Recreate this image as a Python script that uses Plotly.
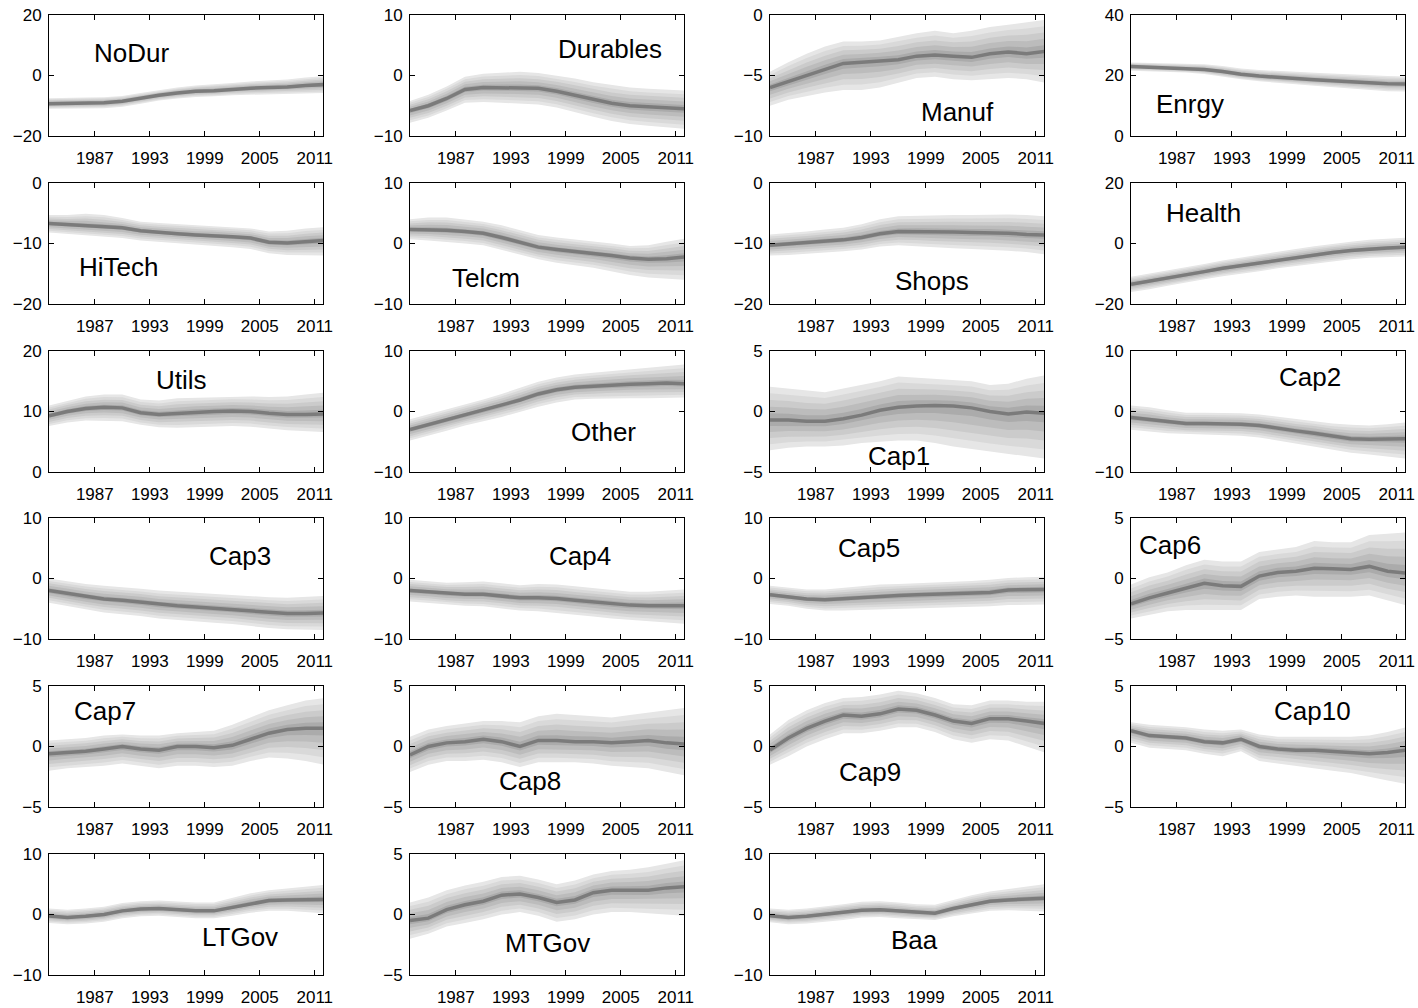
import plotly.graph_objects as go

# ---------------- data ----------------
years = [1982, 1984, 1986, 1988, 1990, 1992, 1994, 1996, 1998, 2000, 2002, 2004, 2006, 2008, 2010, 2012]
x_ticks = [1987, 1993, 1999, 2005, 2011]
band_levels = [1.0, 0.8, 0.6, 0.4, 0.2]

nodur_med = [-9.3, -9.2, -9.0, -9.0, -8.5, -7.5, -6.5, -5.8, -5.2, -5.0, -4.5, -4.2, -4.0, -3.8, -3.3, -3.0]
nodur_up = [-7.5, -7.5, -7.3, -7.2, -6.8, -5.8, -4.8, -4.0, -3.3, -3.0, -2.5, -2.0, -1.7, -1.3, -0.7, -0.2]
nodur_lo = [-11.0, -10.9, -10.8, -10.8, -10.3, -9.3, -8.3, -7.6, -7.1, -6.9, -6.5, -6.3, -6.2, -6.2, -5.9, -5.8]

durables_med = [-5.8, -5.0, -3.8, -2.3, -2.0, -2.0, -2.0, -2.1, -2.6, -3.3, -4.0, -4.6, -5.0, -5.2, -5.4, -5.5]
durables_up = [-4.2, -3.2, -1.8, -0.2, 0.3, 0.5, 0.6, 0.4, 0.0, -0.5, -1.1, -1.6, -2.0, -2.2, -2.4, -2.5]
durables_lo = [-7.8, -7.0, -5.8, -4.5, -4.4, -4.5, -4.6, -4.8, -5.3, -6.0, -6.8, -7.5, -8.0, -8.3, -8.6, -8.8]

manuf_med = [-6.0, -5.5, -5.0, -4.5, -4.0, -3.9, -3.8, -3.7, -3.4, -3.3, -3.4, -3.5, -3.2, -3.05, -3.2, -3.0]
manuf_up = [-4.7, -3.9, -3.2, -2.6, -2.2, -2.2, -2.1, -1.8, -1.5, -1.3, -1.5, -1.3, -1.0, -0.8, -0.6, -0.4]
manuf_lo = [-7.5, -7.0, -6.7, -6.4, -6.2, -6.2, -6.0, -5.6, -5.2, -5.1, -5.3, -5.4, -5.3, -5.2, -5.3, -5.6]

enrgy_med = [23.0, 22.8, 22.6, 22.4, 22.0, 21.3, 20.4, 19.8, 19.3, 19.0, 18.6, 18.2, 17.9, 17.6, 17.3, 17.2]
enrgy_up = [24.3, 24.2, 24.1, 24.0, 23.7, 23.1, 22.3, 21.8, 21.4, 21.2, 20.9, 20.6, 20.4, 20.1, 19.8, 19.7]
enrgy_lo = [21.6, 21.4, 21.2, 21.0, 20.5, 19.7, 18.8, 18.1, 17.5, 17.1, 16.6, 16.1, 15.6, 15.2, 14.8, 14.7]

hitech_med = [-6.7, -6.9, -7.0, -7.2, -7.4, -7.9, -8.2, -8.4, -8.6, -8.7, -8.9, -9.1, -9.8, -9.9, -9.7, -9.5]
hitech_up = [-5.3, -5.3, -5.1, -5.3, -5.8, -6.4, -6.6, -6.8, -7.0, -7.1, -7.3, -7.5, -8.0, -7.9, -7.5, -7.3]
hitech_lo = [-8.2, -8.5, -8.7, -8.9, -9.1, -9.5, -9.8, -10.0, -10.2, -10.4, -10.6, -10.9, -11.6, -11.9, -12.0, -12.0]

telcm_med = [2.3, 2.3, 2.2, 2.0, 1.7, 1.0, 0.2, -0.6, -1.0, -1.3, -1.6, -2.0, -2.4, -2.6, -2.5, -2.2]
telcm_up = [4.0, 4.3, 4.3, 4.0, 3.6, 3.0, 2.2, 1.4, 1.0, 0.7, 0.4, 0.0, -0.4, -0.3, 0.3, 0.8]
telcm_lo = [0.7, 0.5, 0.3, 0.0, -0.3, -1.0, -1.8, -2.6, -3.2, -3.6, -4.0, -4.6, -5.2, -5.6, -5.8, -6.0]

shops_med = [-10.3, -10.1, -9.9, -9.6, -9.4, -9.0, -8.4, -8.0, -8.0, -8.1, -8.1, -8.2, -8.2, -8.3, -8.5, -8.6]
shops_up = [-8.5, -8.3, -8.0, -7.7, -7.4, -6.8, -6.0, -5.5, -5.4, -5.4, -5.3, -5.3, -5.2, -5.2, -5.3, -5.5]
shops_lo = [-12.0, -11.9, -11.8, -11.5, -11.3, -11.0, -10.5, -10.3, -10.4, -10.6, -10.8, -10.9, -11.0, -11.2, -11.4, -11.8]

health_med = [-13.5, -12.5, -11.5, -10.5, -9.3, -8.2, -7.3, -6.5, -5.5, -4.6, -3.8, -3.0, -2.3, -1.8, -1.5, -1.2]
health_up = [-11.0, -10.0, -9.0, -8.0, -6.8, -5.6, -4.6, -3.8, -2.8, -1.8, -0.9, -0.1, 0.6, 1.2, 1.6, 1.9]
health_lo = [-16.0, -15.1, -14.0, -13.0, -11.8, -10.8, -9.9, -9.2, -8.2, -7.4, -6.6, -5.9, -5.2, -4.7, -4.5, -4.3]

utils_med = [9.3, 10.0, 10.5, 10.7, 10.6, 9.8, 9.5, 9.7, 9.9, 10.0, 10.1, 10.0, 9.7, 9.5, 9.5, 9.6]
utils_up = [11.0, 11.8, 12.5, 12.8, 12.8, 12.0, 11.8, 12.2, 12.3, 12.4, 12.5, 12.5, 12.4, 12.5, 12.8, 13.1]
utils_lo = [7.6, 8.2, 8.5, 8.5, 8.4, 7.8, 7.4, 7.3, 7.4, 7.5, 7.6, 7.5, 7.2, 6.9, 6.7, 6.6]

other_med = [-3.0, -2.2, -1.4, -0.6, 0.2, 1.0, 1.9, 2.9, 3.6, 4.0, 4.2, 4.4, 4.5, 4.6, 4.7, 4.6]
other_up = [-1.3, -0.5, 0.4, 1.2, 2.0, 2.9, 3.9, 4.9, 5.6, 6.1, 6.4, 6.7, 7.0, 7.2, 7.5, 7.8]
other_lo = [-4.8, -4.0, -3.2, -2.3, -1.6, -0.9, -0.1, 0.8, 1.5, 2.0, 2.1, 2.2, 2.2, 2.2, 2.2, 2.3]

cap1_med = [-0.7, -0.7, -0.8, -0.8, -0.6, -0.3, 0.1, 0.35, 0.45, 0.5, 0.45, 0.3, 0.0, -0.2, -0.05, -0.15]
cap1_up = [2.05, 1.9, 1.7, 1.6, 1.9, 2.2, 2.5, 2.9, 2.8, 2.7, 2.6, 2.5, 2.2, 2.3, 2.7, 3.0]
cap1_lo = [-3.2, -3.0, -2.9, -2.9, -2.8, -2.6, -2.5, -2.4, -2.4, -2.6, -2.9, -3.1, -3.3, -3.5, -3.7, -3.9]

cap2_med = [-1.0, -1.3, -1.7, -2.0, -2.0, -2.0, -2.1, -2.3, -2.8, -3.2, -3.6, -4.1, -4.5, -4.6, -4.5, -4.5]
cap2_up = [1.0, 0.7, 0.2, -0.2, -0.2, -0.2, -0.3, -0.5, -0.9, -1.3, -1.6, -2.0, -2.2, -2.3, -2.1, -1.8]
cap2_lo = [-3.0, -3.3, -3.6, -3.8, -3.9, -3.9, -4.0, -4.3, -4.8, -5.3, -5.8, -6.3, -6.8, -7.1, -7.4, -7.8]

cap3_med = [-2.0, -2.5, -3.0, -3.4, -3.6, -3.9, -4.3, -4.5, -4.7, -4.9, -5.1, -5.3, -5.6, -5.8, -5.8, -5.7]
cap3_up = [0.0, -0.5, -0.9, -1.2, -1.4, -1.7, -2.0, -2.2, -2.4, -2.5, -2.7, -2.9, -3.1, -3.2, -3.0, -2.9]
cap3_lo = [-4.0, -4.6, -5.1, -5.6, -5.9, -6.2, -6.6, -6.9, -7.1, -7.3, -7.5, -7.8, -8.2, -8.4, -8.5, -8.5]

cap4_med = [-2.0, -2.2, -2.5, -2.6, -2.6, -2.9, -3.2, -3.2, -3.3, -3.6, -3.9, -4.2, -4.4, -4.5, -4.5, -4.5]
cap4_up = [-0.2, -0.4, -0.7, -0.6, -0.5, -0.8, -1.1, -0.9, -1.0, -1.3, -1.6, -2.0, -2.2, -2.2, -2.0, -1.8]
cap4_lo = [-3.8, -4.0, -4.3, -4.5, -4.6, -4.9, -5.3, -5.4, -5.6, -6.0, -6.3, -6.6, -6.9, -7.1, -7.3, -7.5]

cap5_med = [-2.7, -3.0, -3.4, -3.5, -3.3, -3.1, -3.0, -2.8, -2.7, -2.6, -2.5, -2.4, -2.3, -1.9, -1.8, -1.8]
cap5_up = [-1.2, -1.5, -1.8, -1.8, -1.5, -1.2, -1.0, -0.9, -0.8, -0.7, -0.6, -0.4, -0.2, 0.1, 0.2, 0.3]
cap5_lo = [-4.2, -4.5, -5.0, -5.3, -5.3, -5.2, -5.2, -5.1, -5.0, -4.9, -4.8, -4.7, -4.6, -4.4, -4.3, -4.3]

cap6_med = [-2.1, -1.6, -1.2, -0.8, -0.4, -0.6, -0.65, 0.2, 0.5, 0.6, 0.85, 0.8, 0.75, 1.0, 0.6, 0.45]
cap6_up = [-0.5, 0.1, 0.5, 1.1, 1.55, 1.4, 1.4, 2.2, 2.4, 2.6, 3.1, 3.0, 3.0, 3.6, 3.7, 3.8]
cap6_lo = [-3.3, -3.0, -2.7, -2.6, -2.6, -2.6, -2.6, -1.7, -1.5, -1.4, -1.5, -1.5, -1.5, -1.4, -1.8, -2.2]

cap7_med = [-0.6, -0.5, -0.4, -0.2, 0.0, -0.2, -0.3, 0.0, 0.0, -0.1, 0.1, 0.6, 1.1, 1.4, 1.5, 1.5]
cap7_up = [0.5, 0.6, 0.7, 0.9, 1.0, 0.9, 0.9, 1.1, 1.2, 1.3, 1.8, 2.4, 3.0, 3.4, 3.8, 4.0]
cap7_lo = [-2.0, -1.8, -1.7, -1.6, -1.4, -1.6, -1.8, -1.6, -1.6, -1.7, -1.6, -1.2, -0.9, -1.0, -1.2, -1.5]

cap8_med = [-0.7, 0.0, 0.3, 0.4, 0.6, 0.4, 0.0, 0.5, 0.5, 0.4, 0.4, 0.3, 0.4, 0.5, 0.3, 0.2]
cap8_up = [0.8, 1.4, 1.7, 1.9, 2.1, 2.1, 2.0, 2.5, 2.7, 2.6, 2.5, 2.4, 2.6, 2.8, 3.0, 3.2]
cap8_lo = [-2.1, -1.5, -1.2, -1.2, -1.1, -1.3, -1.7, -1.3, -1.3, -1.3, -1.4, -1.6, -1.7, -1.8, -2.1, -2.4]

cap9_med = [-0.3, 0.7, 1.5, 2.1, 2.6, 2.5, 2.7, 3.1, 3.0, 2.6, 2.1, 1.9, 2.3, 2.3, 2.1, 1.9]
cap9_up = [1.0, 2.2, 3.0, 3.6, 4.0, 4.1, 4.3, 4.6, 4.4, 4.0, 3.5, 3.4, 3.8, 3.8, 3.7, 3.7]
cap9_lo = [-1.5, -0.8, 0.0, 0.6, 1.1, 1.1, 1.3, 1.6, 1.6, 1.2, 0.6, 0.3, 0.6, 0.5, 0.0, -0.5]

cap10_med = [1.3, 0.9, 0.8, 0.7, 0.4, 0.3, 0.6, 0.0, -0.2, -0.3, -0.3, -0.4, -0.5, -0.6, -0.5, -0.3]
cap10_up = [2.0, 1.8, 1.7, 1.6, 1.4, 1.3, 1.4, 1.0, 0.8, 0.8, 0.8, 0.8, 0.8, 0.9, 1.2, 1.6]
cap10_lo = [0.3, -0.1, -0.2, -0.3, -0.6, -0.8, -0.4, -1.2, -1.4, -1.6, -1.8, -2.0, -2.2, -2.5, -2.8, -3.1]

ltgov_med = [-0.25, -0.5, -0.3, 0.0, 0.6, 0.9, 1.0, 0.8, 0.6, 0.6, 1.2, 1.8, 2.3, 2.4, 2.5, 2.5]
ltgov_up = [1.0, 0.8, 1.0, 1.3, 1.9, 2.2, 2.3, 2.1, 2.0, 2.0, 2.8, 3.5, 4.0, 4.3, 4.6, 4.9]
ltgov_lo = [-1.4, -1.6, -1.5, -1.2, -0.6, -0.3, -0.2, -0.4, -0.6, -0.6, -0.2, 0.3, 0.6, 0.6, 0.4, 0.2]

mtgov_med = [-0.5, -0.3, 0.4, 0.8, 1.1, 1.6, 1.7, 1.4, 1.0, 1.2, 1.8, 2.0, 2.0, 2.0, 2.2, 2.3]
mtgov_up = [1.0, 1.4, 2.0, 2.4, 2.7, 3.1, 3.2, 2.9, 2.5, 2.8, 3.3, 3.6, 3.7, 3.9, 4.2, 4.5]
mtgov_lo = [-2.0, -1.6, -1.0, -0.7, -0.4, 0.0, 0.2, -0.1, -0.6, -0.4, 0.0, 0.2, 0.2, 0.1, 0.0, -0.1]

baa_med = [-0.2, -0.5, -0.3, 0.0, 0.4, 0.7, 0.8, 0.6, 0.3, 0.2, 1.0, 1.6, 2.2, 2.4, 2.6, 2.7]
baa_up = [1.0, 0.8, 1.0, 1.3, 1.7, 2.1, 2.2, 2.0, 1.7, 1.6, 2.4, 3.2, 3.8, 4.2, 4.6, 5.0]
baa_lo = [-1.3, -1.6, -1.5, -1.2, -0.9, -0.5, -0.4, -0.6, -0.8, -0.9, -0.3, 0.2, 0.6, 0.7, 0.6, 0.5]

names = ["NoDur", "Durables", "Manuf", "Enrgy", "HiTech", "Telcm", "Shops", "Health",
         "Utils", "Other", "Cap1", "Cap2", "Cap3", "Cap4", "Cap5", "Cap6",
         "Cap7", "Cap8", "Cap9", "Cap10", "LTGov", "MTGov", "Baa"]
y_ranges = [[-20, 20], [-10, 10], [-10, 0], [0, 40], [-20, 0], [-10, 10], [-20, 0], [-20, 20],
            [0, 20], [-10, 10], [-5, 5], [-10, 10], [-10, 10], [-10, 10], [-10, 10], [-5, 5],
            [-5, 5], [-5, 5], [-5, 5], [-5, 5], [-10, 10], [-5, 5], [-10, 10]]
medians = [nodur_med, durables_med, manuf_med, enrgy_med, hitech_med, telcm_med, shops_med, health_med,
           utils_med, other_med, cap1_med, cap2_med, cap3_med, cap4_med, cap5_med, cap6_med,
           cap7_med, cap8_med, cap9_med, cap10_med, ltgov_med, mtgov_med, baa_med]
uppers = [nodur_up, durables_up, manuf_up, enrgy_up, hitech_up, telcm_up, shops_up, health_up,
          utils_up, other_up, cap1_up, cap2_up, cap3_up, cap4_up, cap5_up, cap6_up,
          cap7_up, cap8_up, cap9_up, cap10_up, ltgov_up, mtgov_up, baa_up]
lowers = [nodur_lo, durables_lo, manuf_lo, enrgy_lo, hitech_lo, telcm_lo, shops_lo, health_lo,
          utils_lo, other_lo, cap1_lo, cap2_lo, cap3_lo, cap4_lo, cap5_lo, cap6_lo,
          cap7_lo, cap8_lo, cap9_lo, cap10_lo, ltgov_lo, mtgov_lo, baa_lo]
# label anchor inside each panel (fraction of plot area)
label_pos = [(0.30, 0.69), (0.73, 0.72), (0.686, 0.20), (0.215, 0.265), (0.255, 0.305), (0.277, 0.215),
             (0.59, 0.19), (0.266, 0.75), (0.485, 0.76), (0.708, 0.33), (0.47, 0.132), (0.653, 0.785),
             (0.697, 0.686), (0.62, 0.686), (0.361, 0.752), (0.142, 0.777), (0.204, 0.793), (0.438, 0.215),
             (0.365, 0.289), (0.664, 0.793), (0.697, 0.314), (0.5, 0.264), (0.526, 0.289)]

# ---------------- layout geometry ----------------
W, H = 1418, 1008
col_left = [49, 410, 770, 1131]
row_top = [15, 183, 351, 518, 686, 854]
pw, ph = 274, 121
band_colors = ["#e6e6e6", "#d9d9d9", "#cbcbcb", "#bcbcbc", "#ababab"]
median_color = "#7b7b7b"
tick_font = dict(family="Liberation Sans, Arial", size=17, color="black")
label_font = dict(family="Liberation Sans, Arial", size=26, color="black")

fig = go.Figure()
layout = dict(width=W, height=H, margin=dict(l=0, r=0, t=0, b=0), template="none",
              paper_bgcolor="white", plot_bgcolor="white", showlegend=False)
annotations = []

for i, name in enumerate(names):
    r, c = divmod(i, 4)
    n = i + 1
    xa = "x" if n == 1 else f"x{n}"
    ya = "y" if n == 1 else f"y{n}"
    med, up, lo = medians[i], uppers[i], lowers[i]
    for lev, col in zip(band_levels, band_colors):
        top = [m + lev * (u - m) for m, u in zip(med, up)]
        bot = [m + lev * (l - m) for m, l in zip(med, lo)]
        fig.add_trace(go.Scatter(x=years + years[::-1], y=top + bot[::-1], fill="toself",
                                 fillcolor=col, line=dict(width=0), mode="lines",
                                 xaxis=xa, yaxis=ya, hoverinfo="skip"))
    fig.add_trace(go.Scatter(x=years, y=med, mode="lines", line=dict(color=median_color, width=3.5),
                             xaxis=xa, yaxis=ya))
    x0 = col_left[c] / W
    x1 = (col_left[c] + pw) / W
    y1 = 1 - row_top[r] / H
    y0 = 1 - (row_top[r] + ph) / H
    ymin, ymax = y_ranges[i]
    key_x = "xaxis" if n == 1 else f"xaxis{n}"
    key_y = "yaxis" if n == 1 else f"yaxis{n}"
    layout[key_x] = dict(domain=[x0, x1], anchor=ya, range=[1982.0, 2011.9], automargin=False,
                         tickvals=x_ticks, ticktext=[str(t) for t in x_ticks],
                         ticks="inside", ticklen=5, tickcolor="black", mirror="allticks",
                         showline=True, linecolor="black", linewidth=1, showgrid=False,
                         zeroline=False, tickfont=tick_font, ticklabelstandoff=7)
    layout[key_y] = dict(domain=[y0, y1], anchor=xa, range=[ymin, ymax], automargin=False,
                         tickvals=[ymin, (ymin + ymax) / 2, ymax],
                         ticks="inside", ticklen=5, tickcolor="black", mirror="allticks",
                         showline=True, linecolor="black", linewidth=1, showgrid=False,
                         zeroline=False, tickfont=tick_font, ticklabelstandoff=3)
    fx, fy = label_pos[i]
    annotations.append(dict(text=name, x=fx, y=fy, xref=f"{xa} domain", yref=f"{ya} domain",
                            showarrow=False, font=label_font, xanchor="center", yanchor="middle"))

layout["annotations"] = annotations
fig.update_layout(**layout)
fig.write_html("out.html")
